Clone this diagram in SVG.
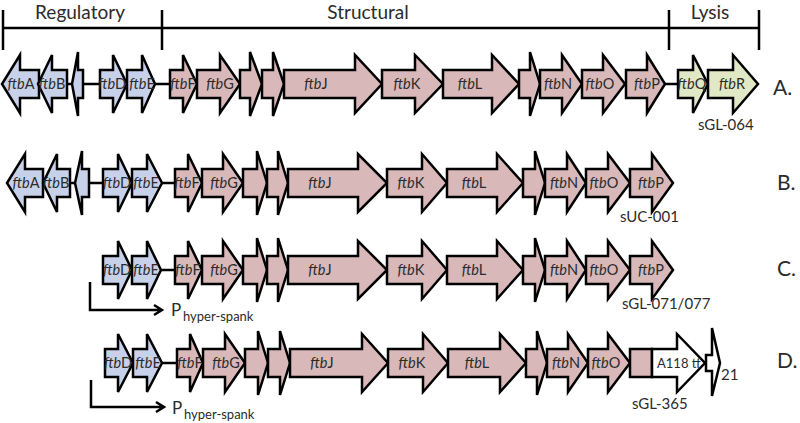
<svg xmlns="http://www.w3.org/2000/svg" width="800" height="423" viewBox="0 0 800 423">
<style>
text{font-family:Lato,"Open Sans","Liberation Sans",sans-serif;fill:#2b2b2b}
.g path,.g rect{stroke:#000;stroke-width:2.5;stroke-linejoin:miter}
.bl{fill:#c7d1e9}.pk{fill:#d8b8b8}.gr{fill:#e0e8c5}.wh{fill:#fff}
.lbl{font-size:14.5px;text-anchor:middle}
.lbl tspan.i{font-style:italic}
.hdr{font-size:19px;text-anchor:middle}
.row{font-size:21px}
.str{font-size:15px}
.ln{stroke:#000;stroke-width:2.5;fill:none}
</style>
<rect width="800" height="423" fill="#fff"/>
<g id="header">
<path class="ln" d="M3 28H759M3 10V50M162 10V50M669 10V50M759 10V50"/>
<text class="hdr" x="80" y="19">Regulatory</text>
<text class="hdr" x="368" y="19">Structural</text>
<text class="hdr" x="710" y="19">Lysis</text>
</g>
<g id="connectors">
<path class="ln" d="M67 84H72M83 84H100M155 84H170M665 84H678"/>
<path class="ln" d="M70 183H75M89 183H103M162 183H175"/>
<path class="ln" d="M161 270H175"/>
<path class="ln" d="M162 363H177"/>
<path class="ln" d="M90 282V310H162M154 305L162 310L154 315"/>
<path class="ln" d="M91 380V407H164M156 402L164 407L156 412"/>
</g>
<g id="rowA" class="g">
<g id="A-ftbA"><path class="bl" d="M39 70H20V55L2 84L20 113V98H39Z"/><text class="lbl" x="21" y="89"><tspan class="i">ftb</tspan>A</text></g>
<g id="A-ftbB"><path class="bl" d="M67 70H52V55L38 84L52 113V98H67Z"/><text class="lbl" x="52" y="89"><tspan class="i">ftb</tspan>B</text></g>
<g id="A-ftbC"><path class="bl" d="M83 70H78V52L72 84L78 116V98H83Z"/></g>
<g id="A-ftbD"><path class="bl" d="M100 70H113V55L127 84L113 113V98H100Z"/><text class="lbl" x="112" y="89"><tspan class="i">ftb</tspan>D</text></g>
<g id="A-ftbE"><path class="bl" d="M127 70H142V55L155 84L142 113V98H127Z"/><text class="lbl" x="142" y="89"><tspan class="i">ftb</tspan>E</text></g>
<g id="A-ftbF"><path class="pk" d="M170 70H183V55L197 84L183 113V98H170Z"/><text class="lbl" x="183" y="89"><tspan class="i">ftb</tspan>F</text></g>
<g id="A-ftbG"><path class="pk" d="M197 70H220V55L240 84L220 113V98H197Z"/><text class="lbl" x="220" y="89"><tspan class="i">ftb</tspan>G</text></g>
<g id="A-ftbH"><path class="pk" d="M240 70H250V52L262 84L250 116V98H240Z"/></g>
<g id="A-ftbI"><path class="pk" d="M262 70H273V52L284 84L273 116V98H262Z"/></g>
<g id="A-ftbJ"><path class="pk" d="M284 70H355V55L382 84L355 113V98H284Z"/><text class="lbl" x="316" y="89"><tspan class="i">ftb</tspan>J</text></g>
<g id="A-ftbK"><path class="pk" d="M382 70H415V55L443 84L415 113V98H382Z"/><text class="lbl" x="407" y="89"><tspan class="i">ftb</tspan>K</text></g>
<g id="A-ftbL"><path class="pk" d="M443 70H492V55L519 84L492 113V98H443Z"/><text class="lbl" x="470" y="89"><tspan class="i">ftb</tspan>L</text></g>
<g id="A-ftbM"><path class="pk" d="M519 70H530V52L540 84L530 116V98H519Z"/></g>
<g id="A-ftbN"><path class="pk" d="M540 70H562V55L582 84L562 113V98H540Z"/><text class="lbl" x="558" y="89"><tspan class="i">ftb</tspan>N</text></g>
<g id="A-ftbO"><path class="pk" d="M582 70H603V55L625 84L603 113V98H582Z"/><text class="lbl" x="600" y="89"><tspan class="i">ftb</tspan>O</text></g>
<g id="A-ftbP"><path class="pk" d="M626 70H647V55L665 84L647 113V98H626Z"/><text class="lbl" x="647" y="89"><tspan class="i">ftb</tspan>P</text></g>
<g id="A-ftbQ"><path class="gr" d="M678 70H693V55L708 84L693 113V98H678Z"/><text class="lbl" x="692" y="89"><tspan class="i">ftb</tspan>Q</text></g>
<g id="A-ftbR"><path class="gr" d="M708 70H733V55L758 84L733 113V98H708Z"/><text class="lbl" x="732" y="89"><tspan class="i">ftb</tspan>R</text></g>
<text class="str" x="698" y="130">sGL-064</text>
<text class="row" x="773" y="95">A.</text>
</g>
<g id="rowB" class="g">
<g id="B-ftbA"><path class="bl" d="M43 169H25V154L7 183L25 212V197H43Z"/><text class="lbl" x="26" y="188"><tspan class="i">ftb</tspan>A</text></g>
<g id="B-ftbB"><path class="bl" d="M70 169H57V154L43 183L57 212V197H70Z"/><text class="lbl" x="56" y="188"><tspan class="i">ftb</tspan>B</text></g>
<g id="B-ftbC"><path class="bl" d="M89 169H82V151L75 183L82 215V197H89Z"/></g>
<g id="B-ftbD"><path class="bl" d="M103 169H118V154L132 183L118 212V197H103Z"/><text class="lbl" x="117" y="188"><tspan class="i">ftb</tspan>D</text></g>
<g id="B-ftbE"><path class="bl" d="M132 169H147V154L162 183L147 212V197H132Z"/><text class="lbl" x="146" y="188"><tspan class="i">ftb</tspan>E</text></g>
<g id="B-ftbF"><path class="pk" d="M175 169H188V154L202 183L188 212V197H175Z"/><text class="lbl" x="187" y="188"><tspan class="i">ftb</tspan>F</text></g>
<g id="B-ftbG"><path class="pk" d="M202 169H223V154L243 183L223 212V197H202Z"/><text class="lbl" x="224" y="188"><tspan class="i">ftb</tspan>G</text></g>
<g id="B-ftbH"><path class="pk" d="M243 169H257V151L267 183L257 215V197H243Z"/></g>
<g id="B-ftbI"><path class="pk" d="M267 169H278V151L288 183L278 215V197H267Z"/></g>
<g id="B-ftbJ"><path class="pk" d="M288 169H358V154L387 183L358 212V197H288Z"/><text class="lbl" x="320" y="188"><tspan class="i">ftb</tspan>J</text></g>
<g id="B-ftbK"><path class="pk" d="M387 169H422V154L447 183L422 212V197H387Z"/><text class="lbl" x="411" y="188"><tspan class="i">ftb</tspan>K</text></g>
<g id="B-ftbL"><path class="pk" d="M447 169H497V154L523 183L497 212V197H447Z"/><text class="lbl" x="474" y="188"><tspan class="i">ftb</tspan>L</text></g>
<g id="B-ftbM"><path class="pk" d="M523 169H535V151L545 183L535 215V197H523Z"/></g>
<g id="B-ftbN"><path class="pk" d="M545 169H567V154L586 183L567 212V197H545Z"/><text class="lbl" x="564" y="188"><tspan class="i">ftb</tspan>N</text></g>
<g id="B-ftbO"><path class="pk" d="M586 169H608V154L630 183L608 212V197H586Z"/><text class="lbl" x="604" y="188"><tspan class="i">ftb</tspan>O</text></g>
<g id="B-ftbP"><path class="pk" d="M630 169H652V154L673 183L652 212V197H630Z"/><text class="lbl" x="651" y="188"><tspan class="i">ftb</tspan>P</text></g>
<text class="str" x="620" y="222">sUC-001</text>
<text class="row" x="777" y="190">B.</text>
</g>
<g id="rowC" class="g">
<g id="C-ftbD"><path class="bl" d="M103 256H118V241L132 270L118 299V284H103Z"/><text class="lbl" x="117" y="275"><tspan class="i">ftb</tspan>D</text></g>
<g id="C-ftbE"><path class="bl" d="M132 256H147V241L161 270L147 299V284H132Z"/><text class="lbl" x="146" y="275"><tspan class="i">ftb</tspan>E</text></g>
<g id="C-ftbF"><path class="pk" d="M175 256H188V241L202 270L188 299V284H175Z"/><text class="lbl" x="188" y="275"><tspan class="i">ftb</tspan>F</text></g>
<g id="C-ftbG"><path class="pk" d="M202 256H223V241L243 270L223 299V284H202Z"/><text class="lbl" x="224" y="275"><tspan class="i">ftb</tspan>G</text></g>
<g id="C-ftbH"><path class="pk" d="M243 256H257V238L267 270L257 302V284H243Z"/></g>
<g id="C-ftbI"><path class="pk" d="M267 256H278V238L288 270L278 302V284H267Z"/></g>
<g id="C-ftbJ"><path class="pk" d="M288 256H358V241L387 270L358 299V284H288Z"/><text class="lbl" x="320" y="275"><tspan class="i">ftb</tspan>J</text></g>
<g id="C-ftbK"><path class="pk" d="M387 256H422V241L447 270L422 299V284H387Z"/><text class="lbl" x="411" y="275"><tspan class="i">ftb</tspan>K</text></g>
<g id="C-ftbL"><path class="pk" d="M447 256H497V241L523 270L497 299V284H447Z"/><text class="lbl" x="474" y="275"><tspan class="i">ftb</tspan>L</text></g>
<g id="C-ftbM"><path class="pk" d="M523 256H535V238L545 270L535 302V284H523Z"/></g>
<g id="C-ftbN"><path class="pk" d="M545 256H567V241L586 270L567 299V284H545Z"/><text class="lbl" x="564" y="275"><tspan class="i">ftb</tspan>N</text></g>
<g id="C-ftbO"><path class="pk" d="M586 256H608V241L630 270L608 299V284H586Z"/><text class="lbl" x="604" y="275"><tspan class="i">ftb</tspan>O</text></g>
<g id="C-ftbP"><path class="pk" d="M630 256H652V241L673 270L652 299V284H630Z"/><text class="lbl" x="651" y="275"><tspan class="i">ftb</tspan>P</text></g>
<text x="171" y="316" font-size="17">P</text>
<text x="183" y="321" font-size="13">hyper-spank</text>
<text class="str" x="622" y="309">sGL-071/077</text>
<text class="row" x="777" y="276">C.</text>
</g>
<g id="rowD" class="g">
<g id="D-ftbD"><path class="bl" d="M105 349H118V334L133 363L118 392V377H105Z"/><text class="lbl" x="118" y="368"><tspan class="i">ftb</tspan>D</text></g>
<g id="D-ftbE"><path class="bl" d="M133 349H147V334L162 363L147 392V377H133Z"/><text class="lbl" x="148" y="368"><tspan class="i">ftb</tspan>E</text></g>
<g id="D-ftbF"><path class="pk" d="M177 349H190V334L203 363L190 392V377H177Z"/><text class="lbl" x="190" y="368"><tspan class="i">ftb</tspan>F</text></g>
<g id="D-ftbG"><path class="pk" d="M203 349H225V334L245 363L225 392V377H203Z"/><text class="lbl" x="226" y="368"><tspan class="i">ftb</tspan>G</text></g>
<g id="D-ftbH"><path class="pk" d="M245 349H258V331L268 363L258 395V377H245Z"/></g>
<g id="D-ftbI"><path class="pk" d="M268 349H280V331L290 363L280 395V377H268Z"/></g>
<g id="D-ftbJ"><path class="pk" d="M290 349H362V334L388 363L362 392V377H290Z"/><text class="lbl" x="322" y="368"><tspan class="i">ftb</tspan>J</text></g>
<g id="D-ftbK"><path class="pk" d="M388 349H423V334L448 363L423 392V377H388Z"/><text class="lbl" x="412" y="368"><tspan class="i">ftb</tspan>K</text></g>
<g id="D-ftbL"><path class="pk" d="M448 349H500V334L526 363L500 392V377H448Z"/><text class="lbl" x="477" y="368"><tspan class="i">ftb</tspan>L</text></g>
<g id="D-ftbM"><path class="pk" d="M526 349H537V331L547 363L537 395V377H526Z"/></g>
<g id="D-ftbN"><path class="pk" d="M547 349H568V334L588 363L568 392V377H547Z"/><text class="lbl" x="566" y="368"><tspan class="i">ftb</tspan>N</text></g>
<g id="D-ftbO"><path class="pk" d="M588 349H608V334L630 363L608 392V377H588Z"/><text class="lbl" x="606" y="368"><tspan class="i">ftb</tspan>O</text></g>
<g id="D-frag"><rect class="pk" x="630" y="349" width="22" height="28"/></g>
<g id="D-A118"><path class="wh" d="M652 349H677V334L705 363L677 392V377H652Z"/><text x="657" y="368" font-size="13">A118 tf</text></g>
<g id="D-21"><path class="wh" d="M706 355H712V328L720 363L712 396V371H706Z"/><text x="721" y="380" font-size="15">21</text></g>
<text x="172" y="414" font-size="17">P</text>
<text x="184" y="419" font-size="13">hyper-spank</text>
<text class="str" x="632" y="409">sGL-365</text>
<text class="row" x="777" y="368">D.</text>
</g>
</svg>
